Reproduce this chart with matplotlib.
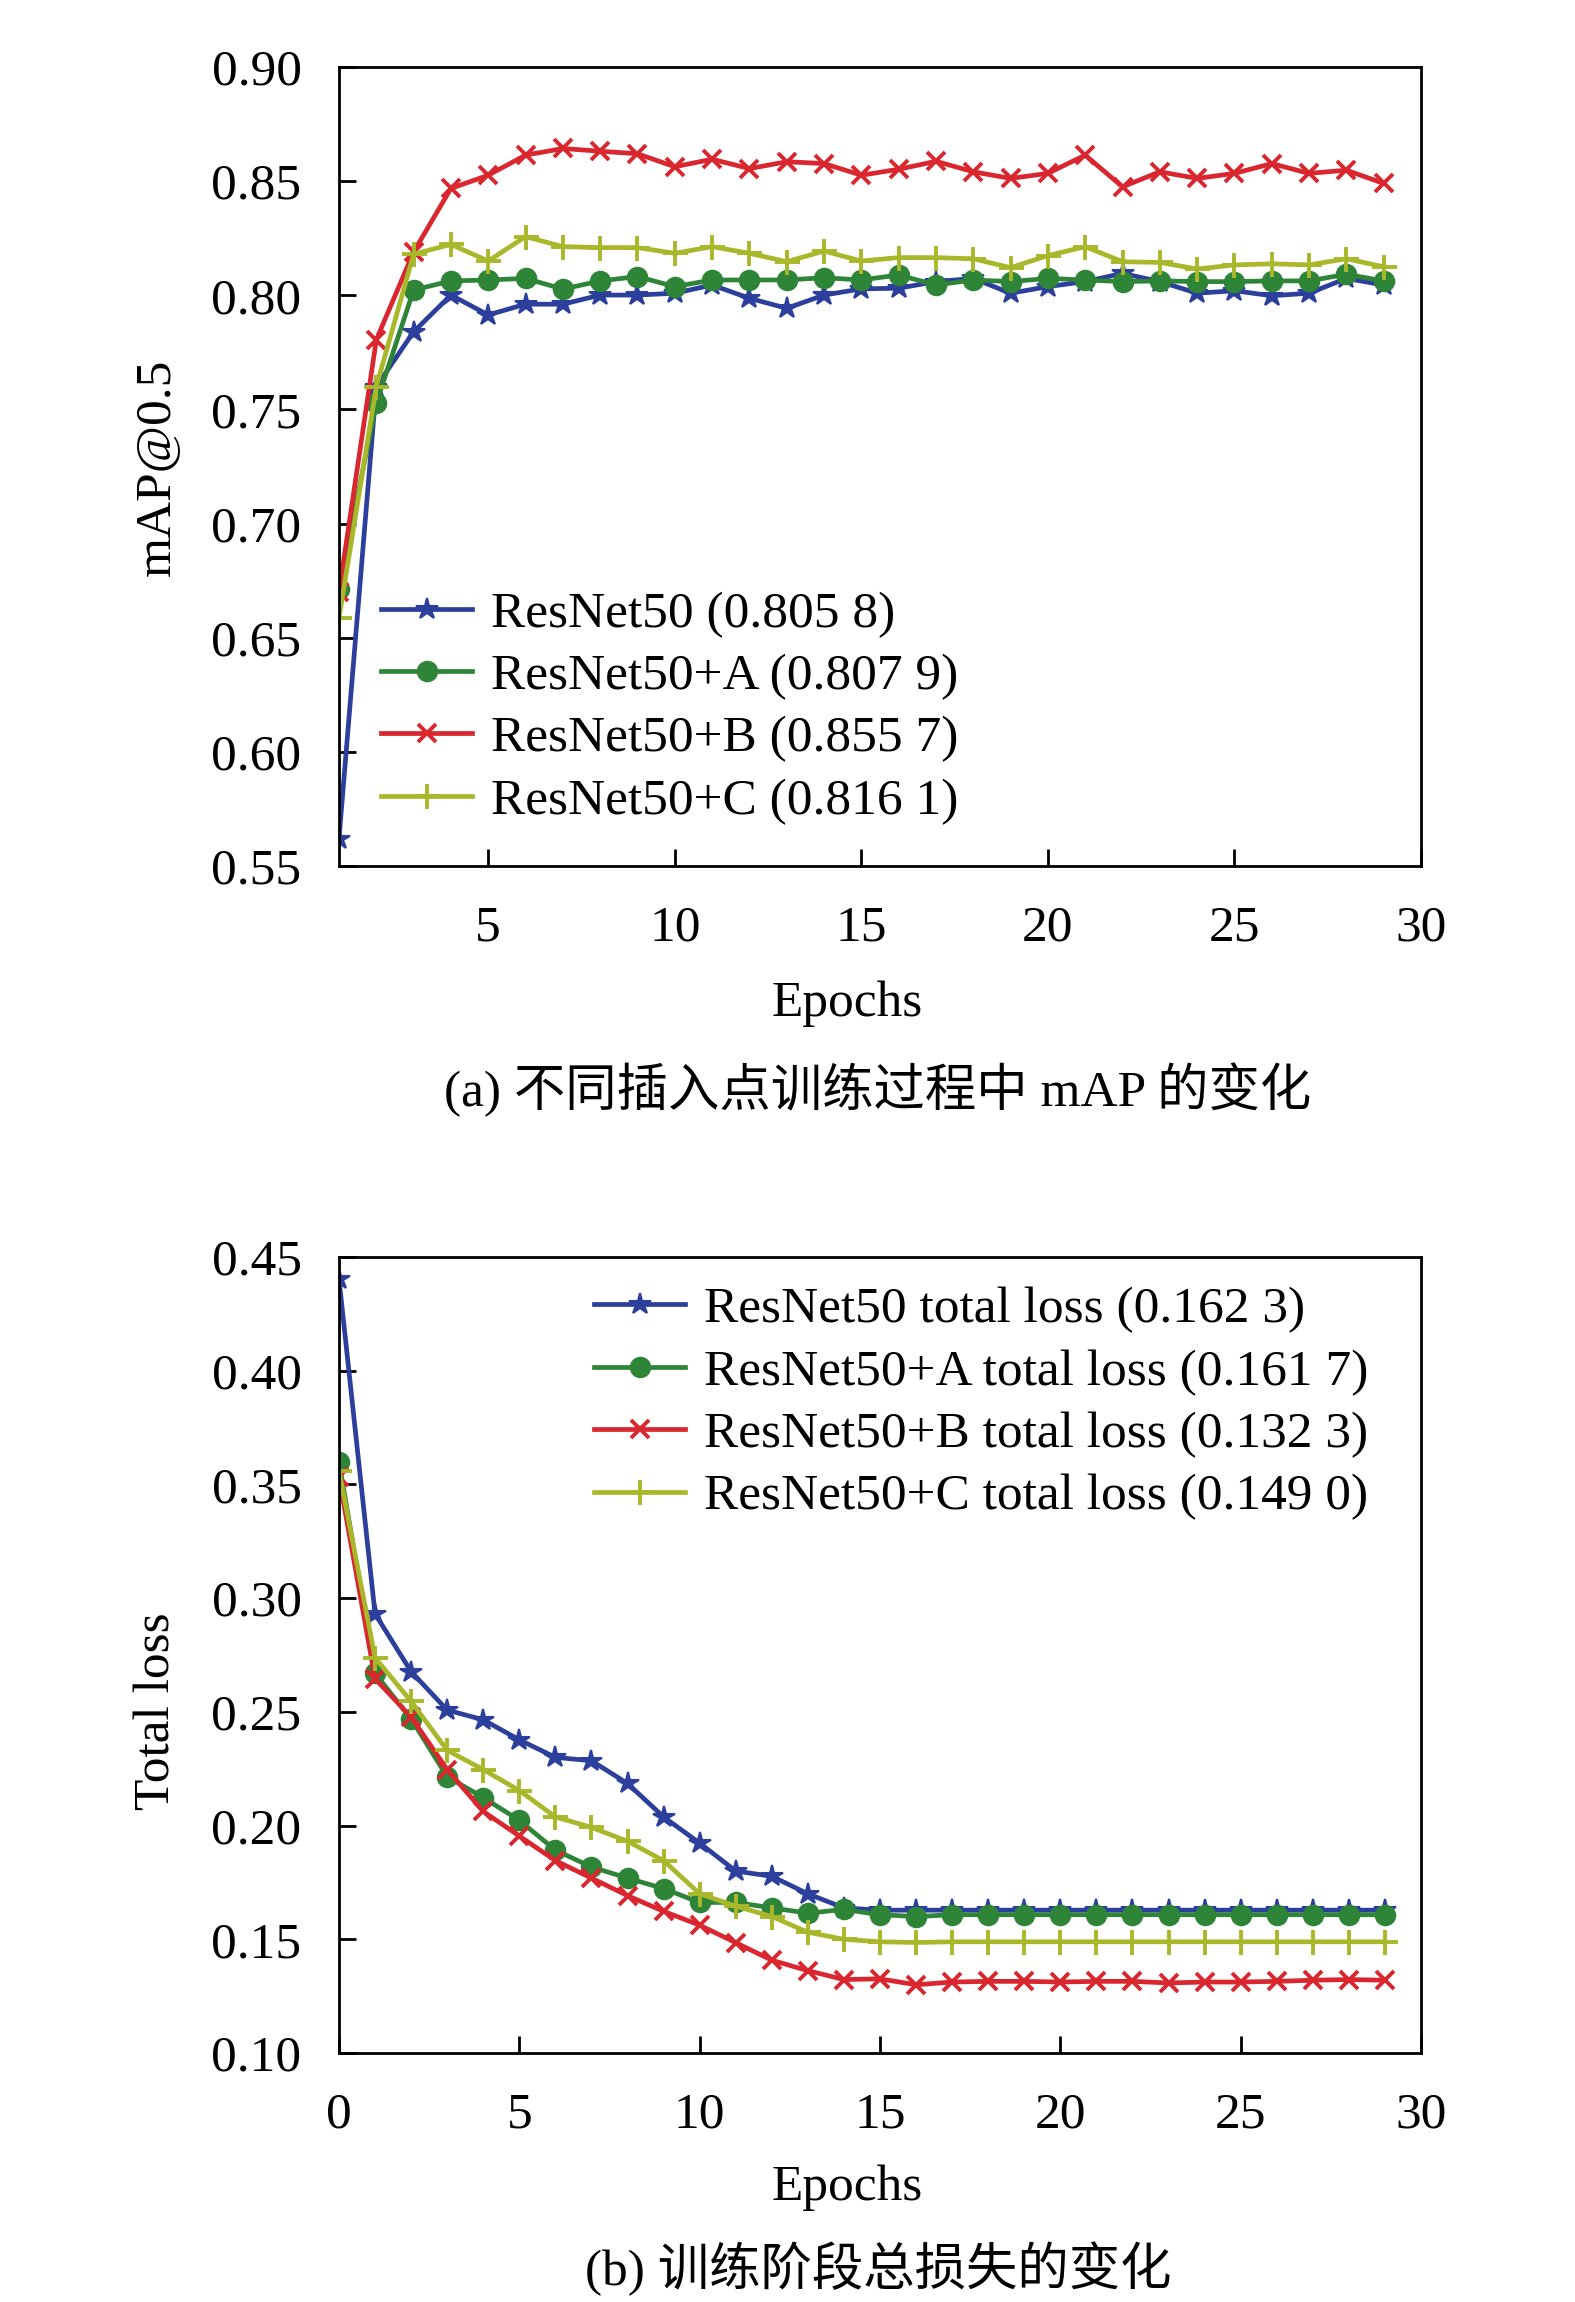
import matplotlib
matplotlib.use("Agg")
import matplotlib.pyplot as plt

plt.rcParams['font.family'] = ['Liberation Serif', 'Noto Sans CJK SC']

# ---------------- data: (a) mAP@0.5 ----------------
epochs_a = list(range(1, 30))
map_resnet = [0.562, 0.760, 0.784, 0.8001, 0.7914, 0.7961, 0.7961, 0.8001, 0.8001, 0.8009,
              0.8045, 0.7987, 0.7943, 0.8001, 0.8028, 0.8031, 0.8060, 0.8074, 0.8009, 0.8038,
              0.8060, 0.8096, 0.8060, 0.8009, 0.8020, 0.7998, 0.8009, 0.8074, 0.8045]
map_a = [0.6715, 0.7528, 0.8023, 0.8063, 0.8067, 0.8074, 0.8027, 0.8063, 0.8082, 0.8038,
         0.8067, 0.8067, 0.8067, 0.8077, 0.8067, 0.8089, 0.8045, 0.8067, 0.8060, 0.8074,
         0.8067, 0.8060, 0.8063, 0.8060, 0.8060, 0.8063, 0.8063, 0.8092, 0.8063]
map_b = [0.670, 0.7805, 0.819, 0.8468, 0.8526, 0.8614, 0.8643, 0.8631, 0.8620, 0.8563,
         0.8596, 0.8555, 0.8585, 0.8577, 0.8526, 0.8552, 0.8587, 0.8541, 0.8512, 0.8534,
         0.8614, 0.8475, 0.8541, 0.8512, 0.8534, 0.8577, 0.8534, 0.8548, 0.8490]
map_c = [0.6585, 0.760, 0.818, 0.8223, 0.8150, 0.8257, 0.8213, 0.8209, 0.8209, 0.8184,
         0.8213, 0.8184, 0.8147, 0.8194, 0.8150, 0.8165, 0.8165, 0.8160, 0.8121, 0.8174,
         0.8213, 0.8147, 0.8144, 0.8115, 0.8133, 0.8138, 0.8133, 0.8160, 0.8125]
labels_a = ["ResNet50 (0.805 8)", "ResNet50+A (0.807 9)",
            "ResNet50+B (0.855 7)", "ResNet50+C (0.816 1)"]

# ---------------- data: (b) total loss ----------------
epochs_b = list(range(0, 30))
loss_resnet = [0.4403, 0.2931, 0.2677, 0.2508, 0.2465, 0.2377, 0.2300, 0.2285, 0.2185, 0.2038,
               0.1923, 0.1800, 0.1777, 0.1700, 0.1638, 0.1628, 0.1628, 0.1628, 0.1628, 0.1628,
               0.1628, 0.1628, 0.1628, 0.1628, 0.1628, 0.1628, 0.1628, 0.1628, 0.1628, 0.1628]
loss_a = [0.3598, 0.2669, 0.2469, 0.2215, 0.2123, 0.2023, 0.1892, 0.1818, 0.1769, 0.1723,
          0.1662, 0.1662, 0.1638, 0.1615, 0.1631, 0.1608, 0.1600, 0.1608, 0.1608, 0.1608,
          0.1608, 0.1608, 0.1608, 0.1608, 0.1608, 0.1608, 0.1608, 0.1608, 0.1608, 0.1608]
loss_b = [0.3533, 0.2646, 0.2477, 0.2246, 0.2062, 0.1954, 0.1846, 0.1769, 0.1692, 0.1623,
          0.1562, 0.1485, 0.1408, 0.1362, 0.1323, 0.1326, 0.1300, 0.1312, 0.1315, 0.1315,
          0.1312, 0.1315, 0.1315, 0.1308, 0.1312, 0.1312, 0.1315, 0.1320, 0.1323, 0.1320]
loss_c = [0.3560, 0.2738, 0.2546, 0.2331, 0.2246, 0.2154, 0.2038, 0.1992, 0.1931, 0.1846,
          0.1700, 0.1646, 0.1600, 0.1531, 0.1500, 0.1489, 0.1486, 0.1489, 0.1489, 0.1489,
          0.1489, 0.1489, 0.1489, 0.1489, 0.1489, 0.1489, 0.1489, 0.1489, 0.1489, 0.1489]
labels_b = ["ResNet50 total loss (0.162 3)", "ResNet50+A total loss (0.161 7)",
            "ResNet50+B total loss (0.132 3)", "ResNet50+C total loss (0.149 0)"]

colors = ["#2c3f9c", "#2e8538", "#d9262f", "#a9b82a"]
markers = ["*", "o", "x", "+"]
msizes = [16, 14, 13, 18]
mews = [1.5, 1.5, 2.8, 2.8]

FS = 37
W, H = 1575, 2302
fig = plt.figure(figsize=(W / 100, H / 100), dpi=100)

def fx(px):
    return px / W

def fy(py):
    return 1 - py / H

ax1 = fig.add_axes([fx(339), fy(866), fx(1421 - 339), (866 - 67) / H])
ax2 = fig.add_axes([fx(339), fy(2053), fx(1421 - 339), (2053 - 1257) / H])

for ax in (ax1, ax2):
    for s in ax.spines.values():
        s.set_linewidth(2.0)
    ax.tick_params(axis='both', direction='in', length=12, width=2.0,
                   labelsize=FS, top=False, right=False)
    ax.tick_params(axis='y', pad=27)
    ax.tick_params(axis='x', pad=28)

series_a = [map_resnet, map_a, map_b, map_c]
for ys, c, m, ms, mew, lab in zip(series_a, colors, markers, msizes, mews, labels_a):
    ax1.plot(epochs_a, ys, color=c, marker=m, markersize=ms, markeredgewidth=mew,
             linewidth=3.4, label=lab)
ax1.set_xlim(1, 30)
ax1.set_ylim(0.55, 0.90)
ax1.set_xticks([5, 10, 15, 20, 25, 30])
ax1.set_yticks([0.55, 0.60, 0.65, 0.70, 0.75, 0.80, 0.85, 0.90])
ax1.set_yticklabels([f"{v:.2f}" for v in ax1.get_yticks()])
ax1.legend(loc='center left', bbox_to_anchor=(0.039, 0.198), frameon=False,
           fontsize=FS, handlelength=1.77, handletextpad=0.37, labelspacing=0.3,
           borderpad=0, borderaxespad=0, markerscale=1.0)

series_b = [loss_resnet, loss_a, loss_b, loss_c]
for ys, c, m, ms, mew, lab in zip(series_b, colors, markers, msizes, mews, labels_b):
    ax2.plot(epochs_b, ys, color=c, marker=m, markersize=ms, markeredgewidth=mew,
             linewidth=3.4, label=lab)
ax2.set_xlim(0, 30)
ax2.set_ylim(0.10, 0.45)
ax2.set_xticks([0, 5, 10, 15, 20, 25, 30])
ax2.set_yticks([0.10, 0.15, 0.20, 0.25, 0.30, 0.35, 0.40, 0.45])
ax2.set_yticklabels([f"{v:.2f}" for v in ax2.get_yticks()])
ax2.legend(loc='center left', bbox_to_anchor=(0.236, 0.816), frameon=False,
           fontsize=FS, handlelength=1.77, handletextpad=0.37, labelspacing=0.3,
           borderpad=0, borderaxespad=0, markerscale=1.0)

fig.text(fx(157), fy(467), "mAP@0.5", rotation=90, ha='center', va='center', fontsize=FS)
fig.text(fx(157), fy(1711), "Total loss", rotation=90, ha='center', va='center', fontsize=FS)
fig.text(fx(847), fy(1004), "Epochs", ha='center', va='center', fontsize=FS)
fig.text(fx(847), fy(2188), "Epochs", ha='center', va='center', fontsize=FS)
fig.text(fx(878), fy(1090), "(a) 不同插入点训练过程中 mAP 的变化", ha='center', va='center', fontsize=FS)
fig.text(fx(878), fy(2269), "(b) 训练阶段总损失的变化", ha='center', va='center', fontsize=FS)

fig.savefig("out.png", dpi=100)
